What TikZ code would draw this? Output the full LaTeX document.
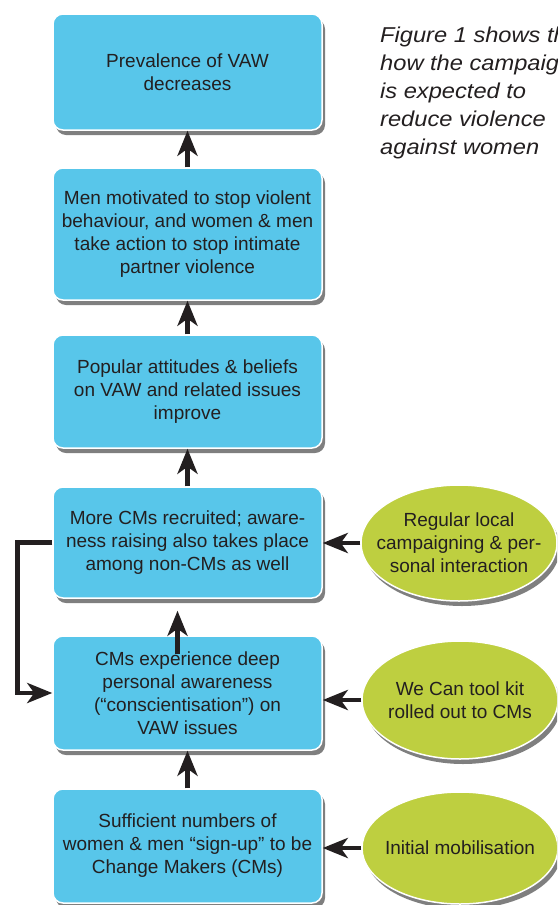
\documentclass[tikz,border=0pt]{standalone}
\usepackage{fontspec}
\setmainfont{Liberation Sans}
\newfontfamily\captionfont[FakeStretch=1.1]{Liberation Sans}
\usetikzlibrary{arrows.meta,shadows,shapes.geometric}

\definecolor{boxblue}{RGB}{88,198,234}
\definecolor{ovalgreen}{RGB}{190,207,64}
\definecolor{inkgray}{RGB}{35,31,32}

\begin{document}
\begin{tikzpicture}[x=1pt,y=-1pt,
  stepbox/.style={draw=white,line width=1.5pt,fill=boxblue,rounded corners=10pt,
    minimum width=269pt,align=center,text=inkgray,
    font=\fontsize{19}{23}\selectfont,
    drop shadow={shadow xshift=3pt,shadow yshift=-5pt,opacity=0.5,fill=black}},
  inputoval/.style={ellipse,draw=white,line width=1.5pt,fill=ovalgreen,
    minimum width=196pt,align=center,text=inkgray,inner xsep=-14pt,inner ysep=0pt,
    font=\fontsize{19}{23}\selectfont,
    drop shadow={shadow xshift=3pt,shadow yshift=-5pt,opacity=0.5,fill=black}},
  arr/.style={-{Stealth[length=25pt,width=20pt,inset=7pt]},line width=4.5pt,draw=inkgray}]
\clip (0,0) rectangle (557,905);
\fill[white] (0,0) rectangle (557,905);

% outcome chain
\node[stepbox,minimum height=116pt] (prev) at (187.5,72) {Prevalence of VAW\\decreases};
\node[stepbox,minimum height=132pt] (motiv) at (187.5,234) {Men motivated to stop violent\\behaviour, and women \& men\\take action to stop intimate\\partner violence};
\node[stepbox,minimum height=113pt] (attit) at (187.5,391.5) {Popular attitudes \& beliefs\\on VAW and related issues\\improve};
\node[stepbox,minimum height=111pt] (recruit) at (187.5,542.5) {More CMs recruited; aware-\\ness raising also takes place\\among non-CMs as well};
\node[stepbox,minimum height=114pt] (aware) at (187.5,693) {CMs experience deep\\personal awareness\\(“conscientisation”) on\\VAW issues};
\node[stepbox,minimum height=114pt] (signup) at (187.5,846) {Sufficient numbers of\\women \& men “sign-up” to be\\Change Makers (CMs)};

% inputs
\node[inputoval,minimum height=116pt] (local) at (459,543) {Regular local\\campaigning \& per-\\sonal interaction};
\node[inputoval,minimum height=118pt] (toolkit) at (460,700) {We Can tool kit\\rolled out to CMs};
\node[inputoval,minimum height=112pt] (initial) at (460,848) {Initial mobilisation};

% caption
\node[anchor=north west,align=left,text=inkgray,inner sep=0pt,
  font=\captionfont\fontsize{21.5}{28}\selectfont\itshape] (caption) at (380,27)
  {Figure 1 shows the\\how the campaign\\is expected to\\reduce violence\\against women};

% arrows up the chain
\draw[arr] (motiv.north) -- (prev.south);
\draw[arr] (attit.north) -- (motiv.south);
\draw[arr] (recruit.north) -- (attit.south);
\draw[arr] ([xshift=-10pt,yshift=-19pt]aware.north) -- ([xshift=-10pt,yshift=-12pt]recruit.south);
\draw[arr] (signup.north) -- (aware.south);

% feedback loop
\draw[arr] (recruit.west) -- ++(-35,0) |- (aware.west);

% inputs into the chain
\draw[arr] (local.west) -- (local.west -| recruit.east);
\draw[arr] (toolkit.west) -- (toolkit.west -| aware.east);
\draw[arr] (initial.west) -- (initial.west -| signup.east);
\end{tikzpicture}
\end{document}
